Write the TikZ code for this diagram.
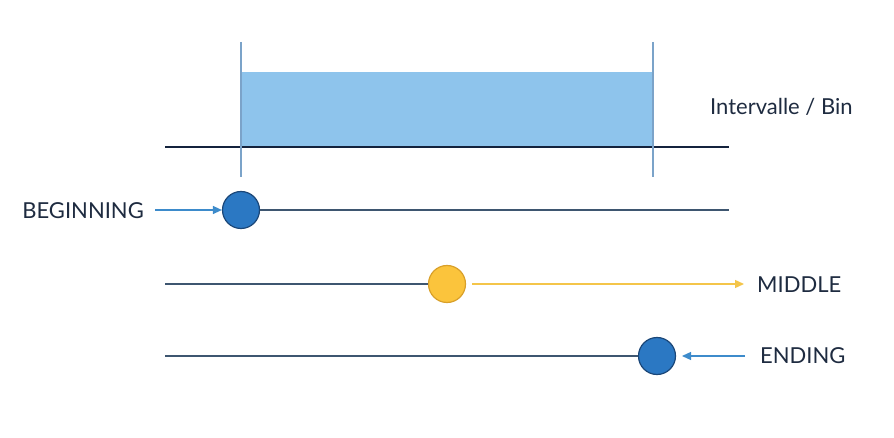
\documentclass[tikz,border=0pt]{standalone}
\usepackage{fontspec}
\setmainfont{Lato}
\usetikzlibrary{arrows.meta}
\definecolor{fillblue}{HTML}{8EC4EC}
\definecolor{vline}{HTML}{7BA3C9}
\definecolor{navy}{HTML}{14233D}
\definecolor{slate}{HTML}{3E5670}
\definecolor{dotblue}{HTML}{2B78C3}
\definecolor{dotedge}{HTML}{1B4778}
\definecolor{dotyellow}{HTML}{FBC43C}
\definecolor{yedge}{HTML}{D9A02A}
\definecolor{arrblue}{HTML}{3D8BCB}
\definecolor{arryel}{HTML}{F4C54A}
\definecolor{txt}{HTML}{1E2B40}
\tikzset{
  lbl/.style={font=\fontsize{22}{25}\selectfont, text=txt, inner sep=0pt},
  dot/.style={circle, minimum size=37pt, inner sep=0pt, line width=1.2pt},
  bluedot/.style={dot, fill=dotblue, draw=dotedge},
  yeldot/.style={dot, fill=dotyellow, draw=yedge},
  rowline/.style={slate, line width=1.3pt},
  ptr/.style={line width=1.3pt, -{Triangle[length=9pt,width=8pt]}},
}
\begin{document}
\begin{tikzpicture}[x=1pt,y=-1pt]
\useasboundingbox (0,0) rectangle (894,438);
% bin
\fill[fillblue] (241,72) rectangle (653,147);
\coordinate (axL) at (165,147);
\coordinate (axR) at (729,147);
\draw[navy, line width=1.3pt] (axL) -- (axR);
\coordinate (v1t) at (241,42); \coordinate (v1b) at (241,177);
\coordinate (v2t) at (653,42); \coordinate (v2b) at (653,177);
\draw[vline, line width=1.4pt] (v1t) -- (v1b);
\draw[vline, line width=1.4pt] (v2t) -- (v2b);
\node[lbl, anchor=west] (bin) at (710,107) {Intervalle / Bin};
% row 1
\node[bluedot] (d1) at (241,210) {};
\coordinate (r1e) at (729,210);
\draw[rowline] (d1) -- (r1e);
\node[lbl, anchor=east] (beg) at (144,211) {BEGINNING};
\coordinate (a1) at (155,210);
\draw[ptr, arrblue] (a1) -- (d1);
% row 2
\node[yeldot] (d2) at (447,284) {};
\coordinate (r2s) at (165,284);
\draw[rowline] (r2s) -- (d2);
\node[lbl, anchor=west] (mid) at (757,285) {MIDDLE};
\coordinate (a2s) at (472,284);
\coordinate (a2e) at (744,284);
\draw[ptr, arryel] (a2s) -- (a2e);
% row 3
\node[bluedot] (d3) at (657,356) {};
\coordinate (r3s) at (165,356);
\draw[rowline] (r3s) -- (d3);
\node[lbl, anchor=west] (end) at (760,356) {ENDING};
\coordinate (a3s) at (745,356);
\coordinate (a3e) at (682,356);
\draw[ptr, arrblue] (a3s) -- (a3e);
\end{tikzpicture}
\end{document}
